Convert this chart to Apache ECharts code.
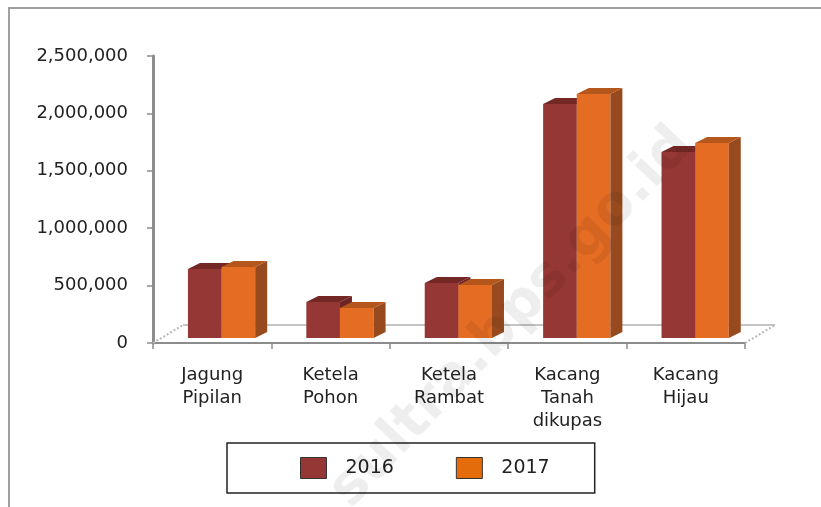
<!DOCTYPE html>
<html>
<head>
<meta charset="utf-8">
<script src="https://cdn.jsdelivr.net/npm/echarts@6/dist/echarts.min.js"></script>
<style>
  html, body { margin: 0; padding: 0; background: #fff; }
  #chart { width: 821px; height: 507px; }
</style>
</head>
<body>
<div id="chart"></div>
<script>
// data
var categories = ['Jagung\nPipilan', 'Ketela\nPohon', 'Ketela\nRambat', 'Kacang\nTanah\ndikupas', 'Kacang\nHijau'];
var seriesNames = ['2016', '2017'];
var v2016 = [602000, 314000, 479000, 2038000, 1620000];
var v2017 = [618000, 261000, 462000, 2125000, 1699000];
var yTicks = [0, 500000, 1000000, 1500000, 2000000, 2500000];

// face colours: front, side, top
var colors = [
    { front: '#953735', side: '#6e2422', top: '#742826' },
    { front: '#e46c23', side: '#984a1f', top: '#b5561d' }
];

function fmt(v) {
    return String(v).replace(/\B(?=(\d{3})+(?!\d))/g, ',');
}

// 3d-ish column drawn on the category/value scales
function barRenderer(s) {
    return function (params, api) {
        var i = api.value(0);
        var base = api.coord([i, 0]);
        var top = api.coord([i, api.value(1)]);
        var band = api.size([1, 0])[0];
        var bw = band * 0.284;
        var x0 = base[0] - band * 0.205 + s * bw;
        var x1 = x0 + bw;
        var lift = 5, dx = 12, dy = 6;
        var yb = base[1] - lift, yt = top[1] - lift;
        var c = colors[s];
        return {
            type: 'group',
            children: [
                { type: 'rect', shape: { x: x0, y: yt, width: bw, height: yb - yt }, style: { fill: c.front } },
                { type: 'polygon', shape: { points: [[x1, yt], [x1 + dx, yt - dy], [x1 + dx, yb - dy], [x1, yb]] }, style: { fill: c.side } },
                { type: 'polygon', shape: { points: [[x0, yt], [x1, yt], [x1 + dx, yt - dy], [x0 + dx, yt - dy]] }, style: { fill: c.top } }
            ]
        };
    };
}

// floor of the 3d plot area
function floorRenderer(params, api) {
    var p = api.coord([0, 0]);
    var band = api.size([1, 0])[0];
    var xL = p[0] - band / 2;
    var xR = xL + band * categories.length;
    var y = p[1];
    var ddx = 30, ddy = 18;
    var st = { stroke: '#c4c4c4', lineWidth: 2 };
    var dash = { stroke: '#b8b8b8', lineWidth: 2, lineDash: [2, 2] };
    return {
        type: 'group',
        children: [
            { type: 'line', shape: { x1: xL + ddx, y1: y - ddy, x2: xR + ddx, y2: y - ddy }, style: st },
            { type: 'line', shape: { x1: xL, y1: y, x2: xL + ddx, y2: y - ddy }, style: dash },
            { type: 'line', shape: { x1: xR, y1: y, x2: xR + ddx, y2: y - ddy }, style: dash }
        ]
    };
}

var chart = echarts.init(document.getElementById('chart'));
var option = {
    animation: false,
    backgroundColor: '#fff',
    textStyle: { fontFamily: 'DejaVu Sans' },
    grid: { left: 153, right: 76, top: 56, bottom: 164, containLabel: false },
    graphic: [
        {
            type: 'rect', z: -10, silent: true,
            shape: { x: 9, y: 8, width: 900, height: 600 },
            style: { fill: 'none', stroke: '#a0a0a0', lineWidth: 2 }
        },
        {
            type: 'text', z: 100, silent: true,
            x: 512, y: 318, rotation: 46.5 * Math.PI / 180,
            style: {
                text: 'sultra.bps.go.id',
                font: 'bold 56px "DejaVu Sans"',
                fill: 'rgba(0,0,0,0.065)',
                align: 'center', verticalAlign: 'middle',
                textAlign: 'center', textVerticalAlign: 'middle'
            }
        }
    ],
    legend: {
        left: 227, top: 443,
        padding: [14, 45, 14, 73],
        itemGap: 62,
        itemWidth: 26, itemHeight: 21,
        borderColor: '#222', borderWidth: 1.5,
        textStyle: { fontSize: 19, color: '#222', fontFamily: 'DejaVu Sans', padding: [0, 0, 0, 14] },
        data: [
            { name: '2016', icon: 'rect', itemStyle: { color: '#953735', borderColor: '#333', borderWidth: 1 } },
            { name: '2017', icon: 'rect', itemStyle: { color: '#e46c0a', borderColor: '#333', borderWidth: 1 } }
        ]
    },
    xAxis: {
        type: 'category',
        data: categories,
        axisLine: { show: true, lineStyle: { color: '#8c8c8c', width: 2 } },
        axisTick: { show: true, length: 6, interval: 0, lineStyle: { color: '#8c8c8c', width: 1.5 } },
        axisLabel: { interval: 0, margin: 21, fontSize: 18, lineHeight: 23, color: '#222', fontFamily: 'DejaVu Sans' },
        splitLine: { show: false }
    },
    yAxis: {
        type: 'value',
        min: yTicks[0], max: yTicks[yTicks.length - 1], interval: 500000,
        axisLine: { show: true, lineStyle: { color: '#8c8c8c', width: 3 } },
        axisTick: { show: true, length: 6, lineStyle: { color: '#8c8c8c', width: 1.5 } },
        axisLabel: { margin: 25, fontSize: 18, color: '#222', fontFamily: 'DejaVu Sans', formatter: fmt },
        splitLine: { show: false }
    },
    series: [
        {
            name: 'floor', type: 'custom', silent: true, z: 1,
            renderItem: floorRenderer,
            data: [[0, 0]]
        },
        {
            name: seriesNames[0], type: 'custom', z: 2,
            itemStyle: { color: '#953735' },
            renderItem: barRenderer(0),
            data: v2016.map(function (v, i) { return [i, v]; })
        },
        {
            name: seriesNames[1], type: 'custom', z: 3,
            itemStyle: { color: '#e46c0a' },
            renderItem: barRenderer(1),
            data: v2017.map(function (v, i) { return [i, v]; })
        }
    ]
};
chart.setOption(option);
</script>
</body>
</html>
